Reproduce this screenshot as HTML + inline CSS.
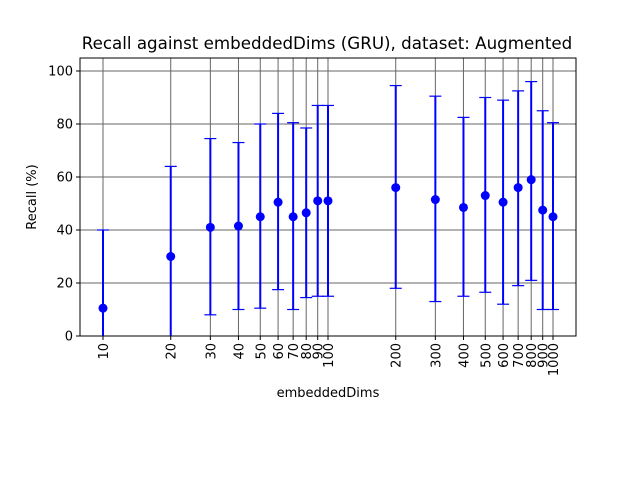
<!DOCTYPE html>
<html><head><meta charset="utf-8"><style>
body{margin:0;background:#fff}
svg{display:block;font-family:"DejaVu Sans","Liberation Sans",sans-serif}
</style></head><body>
<svg id="c" width="640" height="480">
<text x="327" y="49" font-size="16.7" text-anchor="middle">Recall against embeddedDims (GRU), dataset: Augmented</text>
<text x="36" y="197" font-size="13" text-anchor="middle" transform="rotate(-90 36 197)">Recall (%)</text>
<text x="328" y="397" font-size="13" text-anchor="middle">embeddedDims</text>
<g id="grid"></g><g id="marks"></g>
<rect x="80" y="58" width="496" height="278" fill="none" stroke="#000" stroke-width="1"/>
<g id="ticks"></g>
</svg>
<script>
const dims=[10,20,30,40,50,60,70,80,90,100,200,300,400,500,600,700,800,900,1000];
const recallMean=[10.5,30,41,41.5,45,50.5,45,46.5,51,51,56,51.5,48.5,53,50.5,56,59,47.5,45];
const recallUpper=[40,64,74.5,73,80,84,80.5,78.5,87,87,94.5,90.5,82.5,90,89,92.5,96,85,80.5];
const recallLower=[-19,-4,8,10,10.5,17.5,10,14.5,15,15,18,13,15,16.5,12,19,21,10,10];
const yTicks=[0,20,40,60,80,100];
const NS="http://www.w3.org/2000/svg";
const x=v=>103+(Math.log10(v)-1)*225;
const y=v=>336-v*2.65;
function mk(p,t,a){const e=document.createElementNS(NS,t);for(const k in a)e.setAttribute(k,a[k]);p.appendChild(e);return e;}
const g=document.getElementById('grid'),m=document.getElementById('marks'),tk=document.getElementById('ticks');
const clip=v=>Math.max(58,Math.min(336,v));
dims.forEach((d,i)=>{
 const l=mk(g,'line',{x1:x(d),x2:x(d),y1:58,y2:336,stroke:'#666','stroke-width':1});
 
 
 const t=mk(tk,'line',{x1:x(d),x2:x(d),y1:336,y2:340,stroke:'#000'});
 
 
 const tx=mk(tk,'text',{x:0,y:0,'font-size':13,'text-anchor':'end',transform:`translate(${x(d)+5},343) rotate(-90)`});
 tx.textContent=d;
 
 
});
yTicks.forEach(v=>{
 const l=mk(g,'line',{x1:80,x2:576,y1:y(v),y2:y(v),stroke:'#666','stroke-width':1});
 
 
 const t=mk(tk,'line',{x1:76,x2:80,y1:y(v),y2:y(v),stroke:'#000'});
 
 
 const tx=mk(tk,'text',{x:73,y:y(v)+4.5,'font-size':13,'text-anchor':'end'});
 tx.textContent=v;
 
 
});
dims.forEach((d,i)=>{
 const cx=x(d);
 const e=mk(m,'line',{x1:cx,x2:cx,y1:clip(y(recallUpper[i])),y2:clip(y(recallLower[i])),stroke:'#0000ff','stroke-width':2});
 
 
 [recallUpper[i],recallLower[i]].forEach(v=>{
  if(v<0||v>104.9)return;
  const c=mk(m,'line',{x1:cx-6,x2:cx+6,y1:y(v),y2:y(v),stroke:'#0000ff','stroke-width':1.2});
  
  
 });
 const p=mk(m,'circle',{cx:cx,cy:y(recallMean[i]),r:4.5,fill:'#0000ff'});
 
 
});
</script>
</body></html>
